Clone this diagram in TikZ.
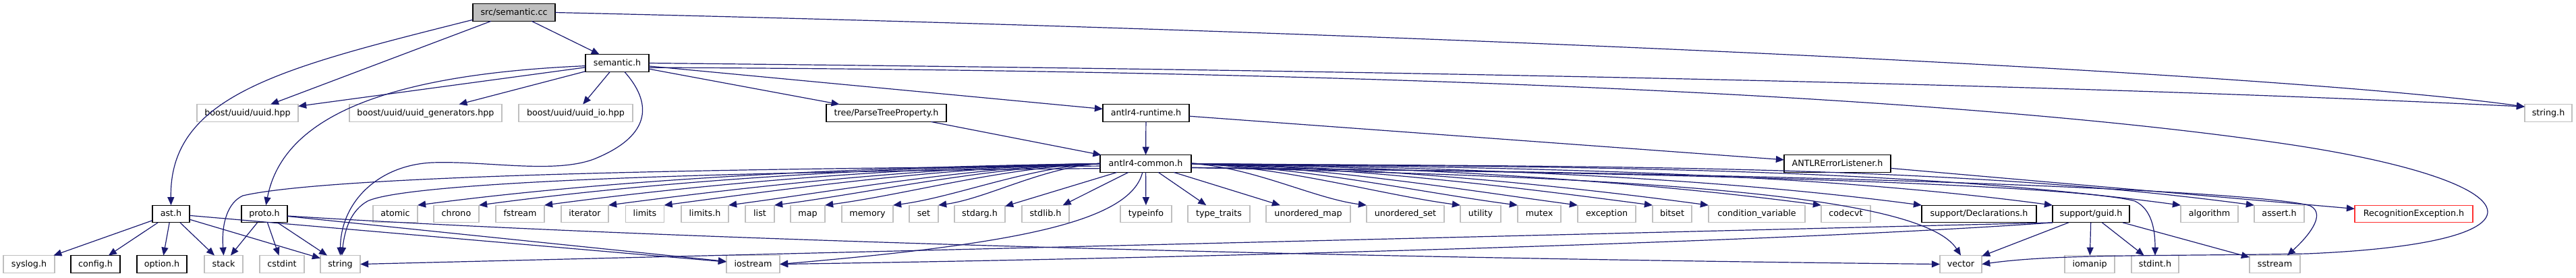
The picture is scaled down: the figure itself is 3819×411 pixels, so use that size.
\documentclass[tikz,border=0pt]{standalone}
\usepackage{fontspec}
\setmainfont{DejaVu Sans}
\usetikzlibrary{arrows.meta}
\definecolor{edgeblue}{HTML}{191970}
\definecolor{extgray}{HTML}{BFBFBF}
\definecolor{rootgray}{HTML}{BFBFBF}
\definecolor{badred}{HTML}{FF3030}
\tikzset{
  box/.style={draw, line width=0.3pt, minimum height=25.5pt, inner sep=0pt,
    text height=9.6pt, text depth=2.6pt, font=\fontsize{12.7}{15}\selectfont, fill=white},
  doc/.style={box, draw=black},
  ext/.style={box, draw=extgray},
  root/.style={doc, fill=rootgray},
  bad/.style={box, draw=badred},
  dep/.style={draw=edgeblue, line width=0.3pt, -{Triangle[length=3pt,width=2.5pt]}},
}
\begin{document}
\begin{tikzpicture}[x=1pt,y=-1pt,scale=0.25,transform shape]
\useasboundingbox (0,0) rectangle (3819,411);
% row 0
\node[root, minimum width=122pt] (semcc) at (762,18.5) {src/semantic.cc};
% row 1
\node[doc, minimum width=94pt] (semh) at (915,93.5) {semantic.h};
% row 2
\node[ext, minimum width=150pt] (uuid) at (367,167.5) {boost/uuid/uuid.hpp};
\node[ext, minimum width=226pt] (uuidgen) at (631,167.5) {boost/uuid/uuid\_generators.hpp};
\node[ext, minimum width=169pt] (uuidio) at (853.5,167.5) {boost/uuid/uuid\_io.hpp};
\node[doc, minimum width=178pt] (ptp) at (1314,167.5) {tree/ParseTreeProperty.h};
\node[doc, minimum width=128pt] (runtime) at (1699,167.5) {antlr4-runtime.h};
\node[ext, minimum width=70pt] (stringh) at (3778,167.5) {string.h};
% row 3
\node[doc, minimum width=135pt] (common) at (1698.5,242.5) {antlr4-common.h};
\node[doc, minimum width=158pt] (listener) at (2724,242.5) {ANTLRErrorListener.h};
% row 4
\node[doc, minimum width=55pt] (ast) at (253.5,317) {ast.h};
\node[doc, minimum width=68pt] (proto) at (392,317) {proto.h};
\node[ext, minimum width=66pt] (atomic) at (586,317) {atomic};
\node[ext, minimum width=67pt] (chrono) at (676.5,317) {chrono};
\node[ext, minimum width=72pt] (fstream) at (771,317) {fstream};
\node[ext, minimum width=70pt] (iterator) at (867,317) {iterator};
\node[ext, minimum width=57pt] (limits) at (956,317) {limits};
\node[ext, minimum width=70pt] (limitsh) at (1045,317) {limits.h};
\node[ext, minimum width=43pt] (list) at (1126.5,317) {list};
\node[ext, minimum width=51pt] (map) at (1197.5,317) {map};
\node[ext, minimum width=76pt] (memory) at (1286,317) {memory};
\node[ext, minimum width=43pt] (set) at (1369.5,317) {set};
\node[ext, minimum width=75pt] (stdarg) at (1452.5,317) {stdarg.h};
\node[ext, minimum width=70pt] (stdlib) at (1550,317) {stdlib.h};
\node[ext, minimum width=76pt] (typeinfo) at (1699,317) {typeinfo};
\node[ext, minimum width=92pt] (typetraits) at (1807,317) {type\_traits};
\node[ext, minimum width=125pt] (umap) at (1939.5,317) {unordered\_map};
\node[ext, minimum width=115pt] (uset) at (2083.5,317) {unordered\_set};
\node[ext, minimum width=60pt] (utility) at (2195,317) {utility};
\node[ext, minimum width=64pt] (mutex) at (2282,317) {mutex};
\node[ext, minimum width=86pt] (exception) at (2382,317) {exception};
\node[ext, minimum width=58pt] (bitset) at (2479,317) {bitset};
\node[ext, minimum width=143pt] (condvar) at (2604.5,317) {condition\_variable};
\node[ext, minimum width=73pt] (codecvt) at (2736.5,317) {codecvt};
\node[doc, minimum width=170pt] (decl) at (2934,317) {support/Declarations.h};
\node[doc, minimum width=114pt] (guid) at (3100,317) {support/guid.h};
\node[ext, minimum width=85pt] (algorithm) at (3275.5,317) {algorithm};
\node[ext, minimum width=74pt] (assert) at (3379,317) {assert.h};
\node[bad, minimum width=175pt] (recog) at (3578.5,317) {RecognitionException.h};
% row 5
\node[ext, minimum width=76pt] (syslog) at (43,391.5) {syslog.h};
\node[doc, minimum width=73pt] (config) at (141.5,391.5) {config.h};
\node[doc, minimum width=74pt] (option) at (240,391.5) {option.h};
\node[ext, minimum width=57pt] (stack) at (331.5,391.5) {stack};
\node[ext, minimum width=66pt] (cstdint) at (418,391.5) {cstdint};
\node[ext, minimum width=59pt] (string) at (504.5,391.5) {string};
\node[ext, minimum width=79pt] (iostream) at (1116.5,391.5) {iostream};
\node[ext, minimum width=62pt] (vector) at (2907,391.5) {vector};
\node[ext, minimum width=74pt] (iomanip) at (3098,391.5) {iomanip};
\node[ext, minimum width=70pt] (stdint) at (3195,391.5) {stdint.h};
\node[ext, minimum width=75pt] (sstream) at (3372.5,391.5) {sstream};

% edges from src/semantic.cc
\draw[dep] (semcc) -- (semh);
\draw[dep] (semcc) -- (uuid);
\draw[dep] (semcc.190) .. controls (420,100) and (251,140) .. (ast.north);
\draw[dep] (semcc.east) .. controls (2200,50) and (3400,110) .. (stringh.165);
% edges from semantic.h
\draw[dep] (semh) -- (uuid);
\draw[dep] (semh) -- (uuidgen);
\draw[dep] (semh) -- (uuidio);
\draw[dep] (semh) -- (ptp);
\draw[dep] (semh) -- (runtime);
\draw[dep] (semh.185) .. controls (580,110) and (420,170) .. (proto.80);
\draw[dep] (semh.-50) .. controls (965,150) and (970,200) .. (880,236)
  .. controls (820,258) and (720,238) .. (640,241)
  .. controls (560,245) and (505,300) .. (string.north);
\draw[dep] (semh.east) .. controls (2000,104) and (3000,122) .. (stringh.165);
\draw[dep] (semh.-8) .. controls (2000,104) and (2900,140) .. (3400,215)
  .. controls (3760,270) and (3800,360) .. (3420,376)
  .. controls (3200,380) and (3050,376) .. (vector.east);
% tree / runtime / listener
\draw[dep] (ptp) -- (common);
\draw[dep] (runtime) -- (common);
\draw[dep] (runtime) -- (listener);
\draw[dep] (listener) -- (recog);
% ast.h
\draw[dep] (ast) -- (syslog);
\draw[dep] (ast) -- (config);
\draw[dep] (ast) -- (option);
\draw[dep] (ast) -- (stack);
\draw[dep] (ast) -- (string);
\draw[dep] (ast) -- (iostream);
% proto.h
\draw[dep] (proto) -- (stack);
\draw[dep] (proto) -- (cstdint);
\draw[dep] (proto) -- (string);
\draw[dep] (proto) -- (iostream);
\draw[dep] (proto.-5) .. controls (900,350) and (1800,380) .. (vector.west);
% antlr4-common.h, left fan
\draw[dep] (common.west) .. controls +(-354,5) and +(304,-40) .. (atomic.north east);
\draw[dep] (common.west) .. controls +(-322,5) and +(276,-37) .. (chrono.north east);
\draw[dep] (common.west) .. controls +(-288,5) and +(247,-33) .. (fstream.north east);
\draw[dep] (common.west) .. controls +(-255,5) and +(219,-29) .. (iterator.north east);
\draw[dep] (common.west) .. controls +(-226,5) and +(194,-26) .. (limits.north east);
\draw[dep] (common.west) .. controls +(-193,5) and +(165,-22) .. (limitsh.north east);
\draw[dep] (common.west) .. controls +(-169,5) and +(145,-19) .. (list.north east);
\draw[dep] (common.west) .. controls +(-143,5) and +(122,-16) .. (map.north east);
\draw[dep] (common.west) .. controls +(-107,5) and +(92,-12) .. (memory.north east);
\draw[dep] (common.west) .. controls +(-84,5) and +(72,-10) .. (set.north east);
\draw[dep] (common) -- (stdarg);
\draw[dep] (common) -- (stdlib);
\draw[dep] (common) -- (typeinfo);
\draw[dep] (common) -- (typetraits);
\draw[dep] (common.183) .. controls (1000,250) and (480,262) .. (360,290)
  .. controls (338,300) and (328,330) .. (stack.north);
\draw[dep] (common.186) .. controls (1000,255) and (600,272) .. (545,298)
  .. controls (520,312) and (511,340) .. (string.80);
\draw[dep] (common.-110) .. controls (1675,330) and (1500,362) .. (iostream.east);
% antlr4-common.h, right fan
\draw[dep] (common) -- (umap);
\draw[dep] (common.east) .. controls +(91,5) and +(-78,-10) .. (uset.north west);
\draw[dep] (common.east) .. controls +(140,5) and +(-120,-16) .. (utility.north west);
\draw[dep] (common.east) .. controls +(169,5) and +(-145,-19) .. (mutex.north west);
\draw[dep] (common.east) .. controls +(200,5) and +(-172,-23) .. (exception.north west);
\draw[dep] (common.east) .. controls +(239,5) and +(-205,-27) .. (bitset.north west);
\draw[dep] (common.east) .. controls +(268,5) and +(-230,-31) .. (condvar.north west);
\draw[dep] (common.east) .. controls +(327,5) and +(-280,-37) .. (codecvt.north west);
\draw[dep] (common.east) .. controls +(379,5) and +(-325,-43) .. (decl.north west);
\draw[dep] (common.east) .. controls +(447,5) and +(-383,-51) .. (guid.north west);
\draw[dep] (common.east) .. controls +(513,5) and +(-440,-59) .. (algorithm.north west);
\draw[dep] (common.east) .. controls +(552,5) and +(-473,-63) .. (assert.north west);
\draw[dep] (common.-5) .. controls (2450,262) and (2850,290) .. (vector.north);
\draw[dep] (common.-5) .. controls (2700,258) and (3100,280) .. (3165,298)
  .. controls (3190,310) and (3195,340) .. (stdint.north);
\draw[dep] (common.-5) .. controls (2800,258) and (3360,285) .. (3425,305)
  .. controls (3450,318) and (3420,352) .. (sstream.35);
% support/guid.h
\draw[dep] (guid) -- (vector);
\draw[dep] (guid) -- (iomanip);
\draw[dep] (guid) -- (stdint);
\draw[dep] (guid) -- (sstream);
\draw[dep] (guid.south west) -- (string.east);
\draw[dep] (guid.south west) .. controls (2650,358) and (1800,382) .. (iostream.east);
\end{tikzpicture}
\end{document}
